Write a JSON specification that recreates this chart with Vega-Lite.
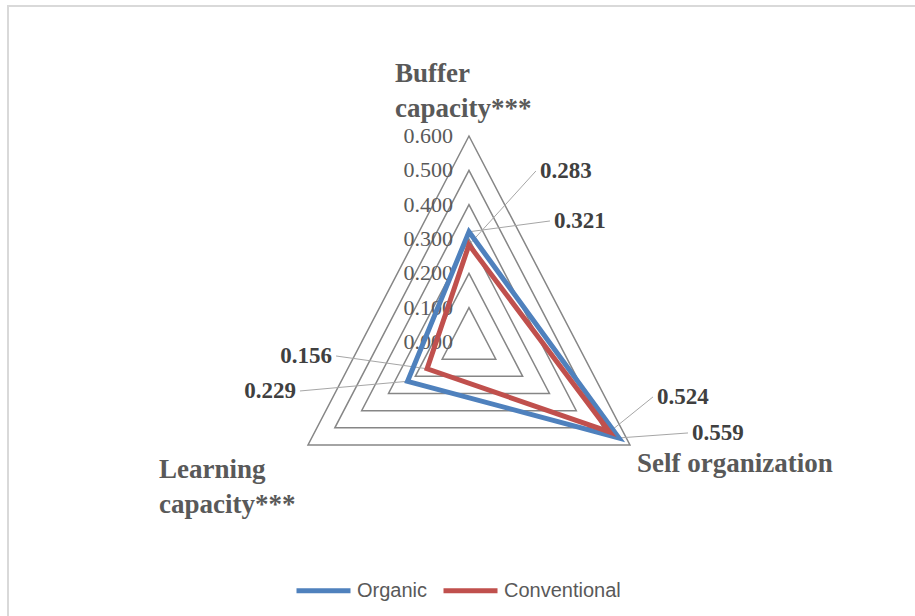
{
  "$schema": "https://vega.github.io/schema/vega-lite/v6.json",
  "autosize": "none",
  "width": 912,
  "height": 614,
  "padding": {"left": 8, "top": 6, "right": 0, "bottom": 0},
  "background": "white",
  "config": {
    "view": {"stroke": "#d9d9d9", "strokeWidth": 2},
    "legend": {
      "orient": "none", "legendX": 286, "legendY": 555, "direction": "horizontal",
      "symbolType": "stroke", "symbolSize": 2916, "symbolStrokeWidth": 5,
      "labelFont": "Liberation Sans", "labelFontSize": 20, "labelColor": "#595959",
      "labelOffset": 4, "columnPadding": 5, "padding": 0
    }
  },
  "datasets": {
    "series": [
      {"series": "Organic", "dimension": "Buffer capacity***", "k": 0, "value": 0.321},
      {"series": "Organic", "dimension": "Self organization", "k": 1, "value": 0.559},
      {"series": "Organic", "dimension": "Learning capacity***", "k": 2, "value": 0.229},
      {"series": "Conventional", "dimension": "Buffer capacity***", "k": 0, "value": 0.283},
      {"series": "Conventional", "dimension": "Self organization", "k": 1, "value": 0.524},
      {"series": "Conventional", "dimension": "Learning capacity***", "k": 2, "value": 0.156}
    ],
    "grid": [
      {"level": 0.1, "k": 0}, {"level": 0.1, "k": 1}, {"level": 0.1, "k": 2},
      {"level": 0.2, "k": 0}, {"level": 0.2, "k": 1}, {"level": 0.2, "k": 2},
      {"level": 0.3, "k": 0}, {"level": 0.3, "k": 1}, {"level": 0.3, "k": 2},
      {"level": 0.4, "k": 0}, {"level": 0.4, "k": 1}, {"level": 0.4, "k": 2},
      {"level": 0.5, "k": 0}, {"level": 0.5, "k": 1}, {"level": 0.5, "k": 2},
      {"level": 0.6, "k": 0}, {"level": 0.6, "k": 1}, {"level": 0.6, "k": 2}
    ],
    "ticks": [
      {"level": 0.0}, {"level": 0.1}, {"level": 0.2}, {"level": 0.3},
      {"level": 0.4}, {"level": 0.5}, {"level": 0.6}
    ],
    "dims": [
      {"dimension": "Buffer capacity***", "k": 0},
      {"dimension": "Self organization", "k": 1},
      {"dimension": "Learning capacity***", "k": 2}
    ]
  },
  "layer": [
    {
      "data": {"name": "grid"},
      "transform": [
        {"calculate": "datum.k * 2 * PI / 3", "as": "angle"},
        {"calculate": "datum.level * sin(datum.angle)", "as": "x"},
        {"calculate": "datum.level * cos(datum.angle)", "as": "y"}
      ],
      "mark": {"type": "line", "interpolate": "linear-closed", "stroke": "#868686", "strokeWidth": 1.5},
      "encoding": {
        "x": {"field": "x", "type": "quantitative", "scale": {"domain": [-1.488, 1.4559], "nice": false, "zero": false}, "axis": null},
        "y": {"field": "y", "type": "quantitative", "scale": {"domain": [-0.8098, 0.9787], "nice": false, "zero": false}, "axis": null},
        "detail": {"field": "level", "type": "nominal"},
        "order": {"field": "k", "type": "quantitative"}
      }
    },
    {
      "data": {"name": "ticks"},
      "mark": {"type": "text", "align": "right", "baseline": "middle", "dx": -16, "font": "Liberation Serif", "fontSize": 22, "color": "#595959"},
      "encoding": {
        "x": {"datum": 0, "type": "quantitative"},
        "y": {"field": "level", "type": "quantitative"},
        "text": {"field": "level", "type": "quantitative", "format": ".3f"}
      }
    },
    {
      "data": {"name": "dims"},
      "transform": [
        {"calculate": "datum.k === 0 ? -0.2389 : datum.k === 1 ? 0.5423 : -1.0006", "as": "tx"},
        {"calculate": "datum.k === 0 ? 0.7574 : datum.k === 1 ? -0.3787 : -0.3962", "as": "ty"},
        {"calculate": "replace(datum.dimension, ' capacity', '\\ncapacity')", "as": "title"}
      ],
      "mark": {"type": "text", "align": "left", "baseline": "alphabetic", "lineBreak": "\n", "lineHeight": 35, "font": "Liberation Serif", "fontWeight": "bold", "fontSize": 27, "color": "#595959"},
      "encoding": {
        "x": {"field": "tx", "type": "quantitative"},
        "y": {"field": "ty", "type": "quantitative"},
        "text": {"field": "title", "type": "nominal"}
      }
    },
    {
      "data": {"name": "series"},
      "transform": [
        {"calculate": "datum.k * 2 * PI / 3", "as": "angle"},
        {"calculate": "datum.value * sin(datum.angle)", "as": "x"},
        {"calculate": "datum.value * cos(datum.angle)", "as": "y"},
        {"calculate": "datum.k === 0 ? (datum.series === 'Organic' ? 0.2615 : 0.216) : datum.k === 1 ? (datum.series === 'Organic' ? 0.707 : 0.594) : (datum.series === 'Organic' ? -0.5455 : -0.429)", "as": "lx"},
        {"calculate": "datum.k === 0 ? (datum.series === 'Organic' ? 0.3525 : 0.498) : datum.k === 1 ? (datum.series === 'Organic' ? -0.265 : -0.160) : (datum.series === 'Organic' ? -0.1427 : -0.0408)", "as": "ly"}
      ],
      "layer": [
        {
          "mark": {"type": "rule", "stroke": "#a6a6a6", "strokeWidth": 1},
          "encoding": {
            "x": {"field": "x", "type": "quantitative"},
            "y": {"field": "y", "type": "quantitative"},
            "x2": {"field": "lx"},
            "y2": {"field": "ly"}
          }
        },
        {
          "mark": {"type": "line", "interpolate": "linear-closed", "strokeWidth": 5, "strokeJoin": "miter"},
          "encoding": {
            "x": {"field": "x", "type": "quantitative"},
            "y": {"field": "y", "type": "quantitative"},
            "order": {"field": "k", "type": "quantitative"},
            "color": {
              "field": "series", "type": "nominal", "title": null,
              "scale": {"domain": ["Organic", "Conventional"], "range": ["#4F81BD", "#C0504D"]}
            }
          }
        },
        {
          "transform": [{"filter": "datum.k !== 2"}],
          "mark": {"type": "text", "align": "left", "baseline": "middle", "dx": 4, "font": "Liberation Serif", "fontWeight": "bold", "fontSize": 23, "color": "#404040"},
          "encoding": {
            "x": {"field": "lx", "type": "quantitative"},
            "y": {"field": "ly", "type": "quantitative"},
            "text": {"field": "value", "type": "quantitative", "format": ".3f"}
          }
        },
        {
          "transform": [{"filter": "datum.k === 2"}],
          "mark": {"type": "text", "align": "right", "baseline": "middle", "dx": -4, "font": "Liberation Serif", "fontWeight": "bold", "fontSize": 23, "color": "#404040"},
          "encoding": {
            "x": {"field": "lx", "type": "quantitative"},
            "y": {"field": "ly", "type": "quantitative"},
            "text": {"field": "value", "type": "quantitative", "format": ".3f"}
          }
        }
      ]
    }
  ]
}
